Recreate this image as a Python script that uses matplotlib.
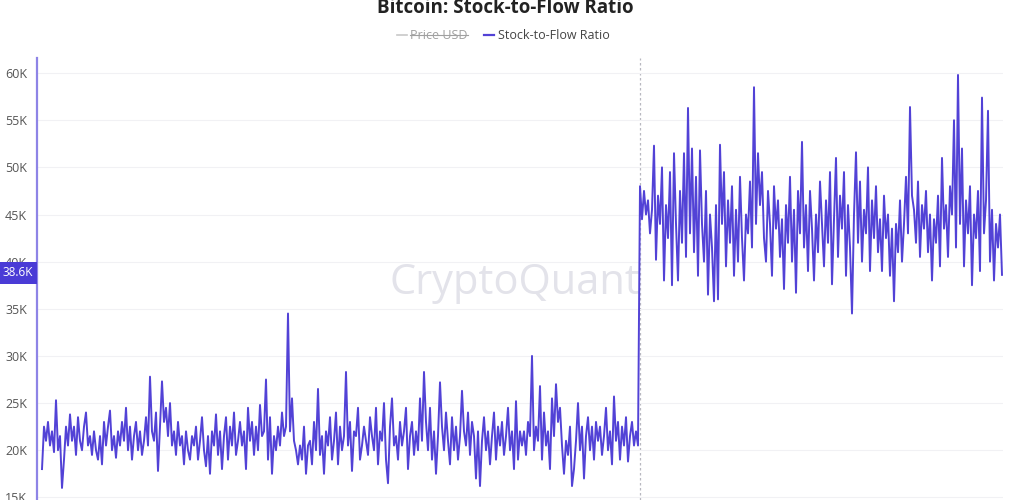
import numpy as np
import matplotlib.pyplot as plt
from matplotlib.lines import Line2D

plt.rcParams['font.family'] = ['Open Sans', 'DejaVu Sans']

# Stock-to-Flow ratio (values in thousands)
sfr_early = [
    18.0, 22.5, 21.0, 23.0, 20.5, 22.0, 19.8, 25.3, 20.0, 21.5, 16.0, 19.0, 22.5, 20.5, 23.8, 21.0, 22.5, 19.5, 23.5, 21.0,
    20.0, 22.5, 24.0, 20.5, 21.5, 19.5, 22.0, 20.0, 19.0, 21.5, 18.5, 23.0, 20.5, 22.5, 24.2, 20.0, 21.5, 19.2, 22.0, 20.5,
    23.0, 21.0, 24.5, 20.0, 22.5, 19.0, 21.5, 23.0, 20.0, 22.0, 19.5, 21.0, 23.5, 20.5, 27.8, 22.0, 21.0, 24.0, 17.8, 22.5,
    27.3, 23.0, 24.5, 21.5, 25.0, 20.5, 22.0, 19.5, 23.0, 20.5, 21.5, 18.5, 22.0, 20.0, 19.0, 21.5, 20.5, 22.5, 19.0, 21.0,
    23.5, 20.0, 18.3, 21.5, 17.5, 22.0, 20.5, 23.8, 19.5, 22.0, 18.0, 21.5, 23.5, 19.0, 22.5, 20.5, 24.0, 19.5, 21.0, 23.0,
    20.5, 22.0, 18.0, 24.5, 21.0, 23.0, 19.5, 22.5, 20.0, 24.8, 21.5, 22.0, 27.5, 19.0, 23.5, 17.5, 21.5, 20.0, 22.5, 20.5,
    24.0, 21.5, 22.5, 34.5, 22.0, 25.5, 21.0, 20.0, 18.5, 20.5, 19.0, 22.5, 17.5, 20.5, 21.0, 18.5, 23.0, 20.0, 26.5, 19.5,
    21.5, 17.5, 22.0, 20.5, 23.5, 19.0, 21.0, 24.0, 18.5, 22.5, 20.0, 21.5, 28.3, 20.5, 23.0, 17.8, 22.0, 21.5, 24.5, 19.0,
    20.5, 22.5, 21.0, 19.5, 23.5, 21.5, 20.0, 24.5, 18.5, 22.0, 21.0, 25.0, 19.0, 16.5, 22.5, 25.5, 20.5, 21.5, 19.0, 23.0,
    20.5, 22.0, 24.5, 18.0, 21.5, 23.0, 19.5, 22.0, 20.0, 25.5, 21.0, 28.3, 23.0, 20.0, 24.5, 19.0, 22.0, 17.5, 21.5, 27.2,
    22.5, 20.0, 24.0, 21.0, 18.5, 23.5, 20.0, 22.5, 19.0, 21.5, 26.3, 22.0, 20.5, 24.0, 19.5, 23.0, 21.5, 17.0, 22.0, 16.2,
    21.0, 23.5, 20.0, 22.0, 18.5, 21.5, 24.0, 19.0, 22.5, 20.5, 23.0, 19.5, 21.5, 24.5, 20.0, 22.0, 18.0, 25.2, 19.0, 22.0,
    20.5, 22.0, 19.5, 23.0, 21.5, 30.0, 20.0, 22.5, 21.0, 26.8, 19.0, 24.0, 20.5, 22.0, 18.0, 25.5, 21.5, 27.0, 23.0, 24.5,
    20.5, 17.5, 21.0, 19.5, 22.5, 16.2, 18.0, 21.0, 25.0, 20.0, 22.5, 17.0, 21.5, 23.5, 20.0, 22.5, 19.0, 23.0, 21.0, 22.5,
    19.5, 21.5, 24.5, 20.0, 22.0, 18.5, 25.7, 21.0, 23.0, 19.0, 22.5, 20.5, 23.5, 18.8, 21.5, 23.0, 20.5, 22.0, 20.5,
]
sfr_late = [
    48.0, 44.5, 47.5, 45.0, 46.5, 43.0, 45.5, 52.3, 40.2, 47.0, 44.0, 50.0, 38.0, 46.0, 42.5, 49.5, 37.5, 51.5, 44.0, 38.0,
    47.5, 42.0, 51.5, 40.5, 56.3, 43.0, 52.0, 41.0, 49.0, 38.5, 51.8, 44.0, 40.0, 47.5, 36.5, 45.0, 41.5, 35.8, 46.0, 36.0,
    52.4, 44.0, 49.5, 39.5, 46.5, 42.0, 48.0, 38.5, 45.5, 40.0, 49.0, 42.5, 38.0, 45.0, 43.0, 48.5, 41.5, 58.5, 44.0, 51.5,
    46.0, 49.5, 42.5, 40.0, 47.5, 44.0, 38.5, 48.0, 43.5, 46.5, 40.5, 44.5, 37.1, 46.0, 42.0, 49.0, 40.0, 45.5, 36.7, 47.5,
    43.0, 52.7, 41.5, 46.0, 39.0, 47.5, 43.5, 38.0, 45.0, 41.0, 48.5, 44.0, 39.5, 46.5, 42.0, 49.5, 37.6, 44.5, 51.0, 40.5,
    47.0, 43.5, 49.5, 38.5, 46.0, 41.5, 34.5, 45.0, 51.6, 42.0, 48.5, 40.0, 45.5, 43.0, 50.0, 39.0, 46.5, 42.5, 48.0, 41.0,
    44.5, 39.0, 47.0, 42.5, 45.0, 38.5, 43.5, 35.8, 44.0, 41.0, 46.5, 40.0, 44.0, 49.0, 43.0, 56.4, 47.0, 45.5, 42.0, 48.5,
    40.5, 46.0, 43.5, 47.5, 41.0, 45.0, 38.0, 44.5, 42.0, 47.0, 39.5, 51.0, 43.5, 46.0, 40.5, 48.0, 45.0, 55.0, 41.5, 59.8,
    44.0, 52.0, 39.5, 46.5, 43.0, 48.0, 37.5, 45.0, 42.5, 47.5, 39.0, 57.4, 43.0, 46.5, 56.0, 40.0, 45.5, 38.0, 44.0, 41.5, 45.0, 38.6,
]
y_ticks = [15000, 20000, 25000, 30000, 35000, 40000, 45000, 50000, 55000, 60000]
y_tick_labels = ['15K', '20K', '25K', '30K', '35K', '40K', '45K', '50K', '55K', '60K']
last_label = '38.6K'

line_color = '#5242d6'
axis_color = '#8e84e6'

sfr = np.array(sfr_early + sfr_late) * 1000
days = np.arange(len(sfr))
cursor_day = len(sfr_early)

fig = plt.figure(figsize=(10.24, 5.0), dpi=100)
ax = fig.add_axes([37 / 1024, 0.0, 966 / 1024, 0.884])

ax.plot(days, sfr, color=line_color, lw=1.4)
ax.axvline(cursor_day, color='#b8b8c0', lw=0.9, ls=(0, (2, 2)), zorder=0)

ax.set_xlim(-2.5, len(sfr) - 0.5)
ax.set_ylim(14720, 61600)
ax.set_yticks(y_ticks)
ax.set_yticklabels(y_tick_labels)
ax.set_xticks([])
ax.tick_params(axis='y', length=0, pad=7, labelsize=9, labelcolor='#555555')
ax.grid(axis='y', color='#f1f1f4', lw=0.8)
for s in ['top', 'right', 'bottom']:
    ax.spines[s].set_visible(False)
ax.spines['left'].set_color(axis_color)
ax.spines['left'].set_linewidth(1.6)

# watermark
ax.text(0.495, 0.49, 'CryptoQuant', transform=ax.transAxes, ha='center', va='center',
        fontsize=30, color='#e3e3ea', zorder=0)

# current value marker on the y axis
fig.text(18 / 1024, 1 - 273 / 500, last_label, ha='center', va='center', fontsize=8.5,
         color='white', bbox=dict(boxstyle='square,pad=0.35', fc='#4a3bd6', ec='none'))

fig.text(0.493, 0.984, 'Bitcoin: Stock-to-Flow Ratio', ha='center', va='center',
         fontsize=13.5, fontweight='bold', color='#222222')

# legend
ly = 1 - 35 / 500
fig.add_artist(Line2D([397 / 1024, 407 / 1024], [ly, ly], color='#c8c8c8', lw=1.2))
price_txt = fig.text(410 / 1024, ly, 'Price USD', ha='left', va='center', fontsize=9, color='#a0a0a0')
fig.add_artist(Line2D([484 / 1024, 494 / 1024], [ly, ly], color=line_color, lw=1.6))
fig.text(498 / 1024, ly, 'Stock-to-Flow Ratio', ha='left', va='center', fontsize=9, color='#444444')

fig.canvas.draw()
bb = price_txt.get_window_extent().transformed(fig.transFigure.inverted())
fig.add_artist(Line2D([bb.x0, bb.x1], [ly, ly], color='#a0a0a0', lw=0.8))

fig.savefig('out.png', dpi=100)
